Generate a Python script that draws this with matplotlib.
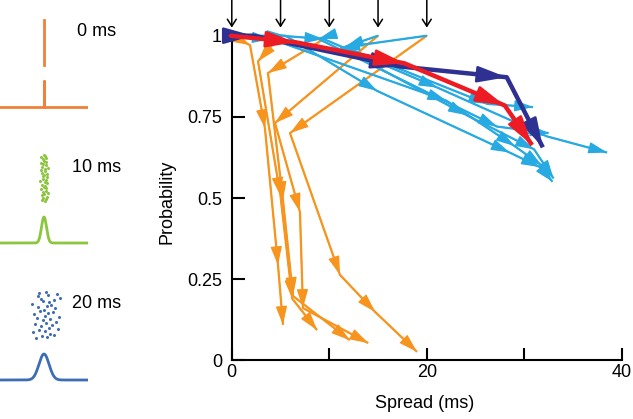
import numpy as np
import matplotlib
matplotlib.use('Agg')
import matplotlib.pyplot as plt

plt.rcParams['font.family'] = ['Liberation Sans', 'DejaVu Sans']

# trajectories in (spread [ms], probability) space
orange_x = [
    [0, 1.87, 3.4, 4.74, 5.25],
    [5, 2.69, 5.0, 6.2, 8.74],
    [10, 3.71, 5.25, 6.28, 12.1],
    [15, 4.43, 6.99, 7.3, 14.0],
    [20, 5.97, 11.1, 14.7, 19.0],
]
orange_y = [
    [1, 0.971, 0.715, 0.293, 0.109],
    [1, 0.921, 0.506, 0.19, 0.093],
    [1, 0.885, 0.493, 0.198, 0.062],
    [1, 0.731, 0.457, 0.161, 0.053],
    [1, 0.70, 0.263, 0.149, 0.026],
]
blue_x = [
    [0, 5.5, 14.9, 28.5, 31.6, 32.9],
    [5, 9.4, 21.1, 32.3, 38.5],
    [15, 11.6, 26.2, 30.9],
    [20, 11.2, 24.1, 31.0, 33.0],
    [10, 8.9, 27.2, 32.5],
    [0, 4.0, 22.0, 29.0, 31.8],
]
blue_y = [
    [1, 1.0, 0.83, 0.64, 0.595, 0.55],
    [1, 0.99, 0.84, 0.69, 0.64],
    [1, 0.965, 0.79, 0.78],
    [1, 0.963, 0.755, 0.65, 0.56],
    [1, 0.99, 0.72, 0.70],
    [1, 0.99, 0.80, 0.66, 0.60],
]
navy_x = [0, 2.2, 17.3, 28.2, 31.9]
navy_y = [1, 1.0, 0.905, 0.872, 0.656]
red_x = [-0.2, 6.5, 17.7, 28.0, 30.8]
red_y = [1, 0.98, 0.915, 0.785, 0.663]
start_spreads = [0, 5, 10, 15, 20]

# schematic pulse packets (spike times in ms)
panel_labels = ['0 ms', '10 ms', '20 ms']
panel_sigmas = [0, 10, 20]
panel_colors = ['#f0803a', '#8cc63f', '#3d6db5']
spikes_0 = [0] * 60
spikes_10 = [3, -6, 8, -2, 12, -9, 1, 15, -4, 6, -12, 9, -1, 4, -7, 11, 2, -14, 7, -3,
             10, -5, 0, 13, -8, 5, -11, 3, 16, -6, 8, -2, -10, 6, 1, -4, 9, -13, 4, -1]
spikes_20 = [-30, 12, -8, 40, 25, -45, 5, -20, 55, 18, -12, 30, -35, 8, 48, -5, 22, -28, 60, 2,
             -40, 15, 35, -15, 0, 45, -22, 10, 28, -48, 20, -2, 38, -10, 65, -25, 14, 50, -18, 6]
panel_spikes = [spikes_0, spikes_10, spikes_20]

W, H = 633, 419
fig = plt.figure(figsize=(W / 100, H / 100), dpi=100)

ax = fig.add_axes([231.8 / W, (H - 360.3) / H, 390 / W, 360.3 / H])
ax.set_xlim(0, 40)
ax.set_ylim(0, 1.11)


def draw_path(xs, ys, color, lw, hl, hw, z):
    ax.plot(xs, ys, color=color, lw=lw, solid_joinstyle='round', solid_capstyle='butt',
            clip_on=False, zorder=z)
    for i in range(len(xs) - 1):
        ax.annotate('', xy=(xs[i + 1], ys[i + 1]), xytext=(xs[i], ys[i]),
                    arrowprops=dict(arrowstyle=f'-|>,head_length={hl},head_width={hw}',
                                    color=color, lw=lw * 0.6, shrinkA=0, shrinkB=0,
                                    mutation_scale=10),
                    annotation_clip=False, zorder=z)


for xs, ys in zip(orange_x, orange_y):
    draw_path(xs, ys, '#f7941d', 1.6, 1.15, 0.35, 2)
for xs, ys in zip(blue_x, blue_y):
    draw_path(xs, ys, '#27aae1', 1.6, 1.15, 0.35, 3)
draw_path(navy_x, navy_y, '#2e3192', 3.2, 1.8, 0.5, 4)
draw_path(red_x, red_y, '#ed1c24', 3.2, 1.8, 0.5, 5)

for s in start_spreads:
    ax.annotate('', xy=(s, 1.025), xytext=(s, 1.11),
                arrowprops=dict(arrowstyle='->,head_length=0.5,head_width=0.32', color='black',
                                lw=1.1, shrinkA=0, shrinkB=0, mutation_scale=10),
                annotation_clip=False)

for side in ['top', 'right']:
    ax.spines[side].set_visible(False)
ax.spines['left'].set_bounds(0, 1)
ax.spines['bottom'].set_bounds(0, 40)
for side in ['left', 'bottom']:
    ax.spines[side].set_linewidth(1.5)
ax.set_xticks([0, 10, 20, 30, 40])
ax.set_xticklabels(['0', '', '20', '', '40'])
ax.set_yticks([0, 0.25, 0.5, 0.75, 1])
ax.set_yticklabels(['0', '0.25', '0.5', '0.75', '1'])
ax.tick_params(direction='in', length=9, width=1.5, labelsize=13)
ax.tick_params(axis='y', pad=7)
ax.tick_params(axis='x', pad=3)
ax.set_xlabel('Spread (ms)', fontsize=13)
ax.set_ylabel('Probability', fontsize=13)
ax.xaxis.set_label_coords(0.495, -0.095)
ax.yaxis.set_label_coords(-0.145, 0.44)

# left schematic panels
baselines = [107, 243, 380]
unit = 26.0
t = np.linspace(-175, 175, 400)
for base, sig, col, sp, lab in zip(baselines, panel_sigmas, panel_colors, panel_spikes, panel_labels):
    pax = fig.add_axes([0, (H - (base + 0.2 * unit)) / H, 88 / W, 3.8 * unit / H])
    pax.set_xlim(-175, 175)
    pax.set_ylim(-0.2, 3.6)
    pax.axis('off')
    rows = np.linspace(1.6, 3.4, len(sp))
    if sig == 0:
        pax.plot([0, 0], [1.6, 3.35], color=col, lw=2)
        pax.plot([-175, 0, 0, 0, 175], [0, 0, 1, 0, 0], color=col, lw=2)
    else:
        pax.plot(sp, rows, 'o', color=col, ms=2.2, mew=0)
        pax.plot(t, np.exp(-t ** 2 / (2 * sig ** 2)), color=col, lw=2)
    fig.text(72 / W if sig else 77 / W, 1 - (base - 76) / H, lab,
             fontsize=13, ha='left', va='center')

fig.savefig('out.png', dpi=100)
